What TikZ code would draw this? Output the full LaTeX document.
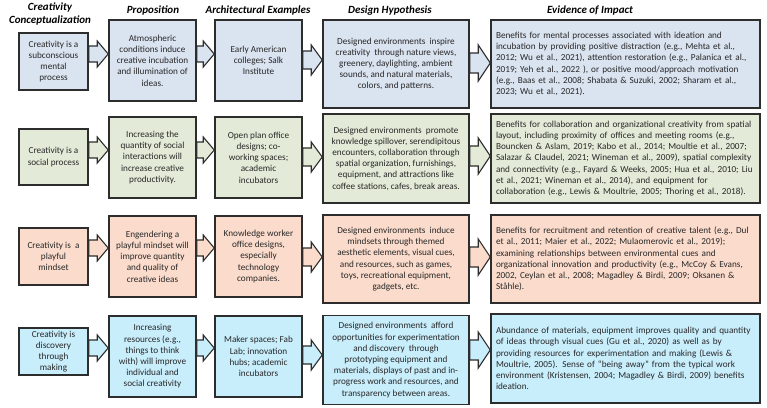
\documentclass[tikz,border=0pt]{standalone}
\usepackage{fontspec}
\setmainfont{Carlito}
\usetikzlibrary{calc}
\definecolor{cA}{RGB}{218,227,240}
\definecolor{cB}{RGB}{227,235,216}
\definecolor{cC}{RGB}{251,220,204}
\definecolor{cD}{RGB}{200,237,251}
\definecolor{bordc}{RGB}{45,45,45}
\definecolor{txtc}{RGB}{40,40,40}
\tikzset{
  box/.style={draw=bordc, line width=1.5pt, rectangle, inner sep=2pt, align=center,
    font=\fontsize{9.2}{11.2}\selectfont, text=txtc},
  ev/.style={box, align=left, text width=259pt, inner xsep=5pt},
  cbox/.style={box, minimum width=69pt},
  pbox/.style={box, minimum width=87pt, minimum height=81pt},
  dbox/.style={box, minimum width=146pt},
  hdr/.style={font=\fontsize{11}{13}\selectfont\bfseries\itshape, align=center, text=black},
  arr/.style={draw=bordc, line width=1.1pt, line join=miter},
}
% src, tgt, y, shaft half, head half, head length, colour
\newcommand{\blockarr}[7]{%
  \path[arr, fill=#7] let \p1=(#1.east), \p2=(#2.west),
    \n1={\x1}, \n2={\x2}, \n3={\x2-#6} in
    (\n1,{#3-#4}) -- (\n3,{#3-#4}) -- (\n3,{#3-#5}) -- (\n2,#3)
    -- (\n3,{#3+#5}) -- (\n3,{#3+#4}) -- (\n1,{#3+#4}) -- cycle;}
\begin{document}
\begin{tikzpicture}[x=1pt,y=-1pt]
\useasboundingbox (0,0) rectangle (767,407);
% headers
\node[hdr] (h1) at (50,14) {Creativity\\Conceptualization};
\node[hdr] (h2) at (153,11) {Proposition};
\node[hdr] (h3) at (258,11) {Architectural Examples};
\node[hdr] (h4) at (390,11) {Design Hypothesis};
\node[hdr] (h5) at (590,11) {Evidence of Impact};
% row 1
\node[cbox, fill=cA, minimum height=57pt] (c1) at (53.5,61.5) {Creativity is a\\subconscious\\mental\\process};
\node[pbox, fill=cA] (p1) at (152.5,60.5) {Atmospheric\\conditions induce\\creative incubation\\and illumination of\\ideas.};
\node[pbox, fill=cA] (a1) at (258.5,60.5) {Early American\\colleges; Salk\\Institute};
\node[dbox, fill=cA, minimum height=88pt] (d1) at (396,64) {Designed environments~ inspire\\creativity~ through nature views,\\greenery, daylighting, ambient\\sounds, and natural materials,\\colors, and patterns.};
\node[ev, fill=cA, minimum height=88pt] (e1) at (625.5,64) {Benefits for mental processes associated with ideation and\\incubation by providing positive distraction (e.g., Mehta et al.,\\2012; Wu et al., 2021), attention restoration (e.g., Palanica et al.,\\2019; Yeh et al., 2022 ), or positive mood/approach motivation\\(e.g., Baas et al., 2008; Shabata \& Suzuki, 2002; Sharam et al.,\\2023; Wu et al., 2021).};
% row 2
\node[cbox, fill=cB, minimum height=56pt] (c2) at (53.5,157) {Creativity is a\\social process};
\node[pbox, fill=cB] (p2) at (152.5,157.5) {Increasing the\\quantity of social\\interactions will\\increase creative\\productivity.};
\node[pbox, fill=cB] (a2) at (258.5,157.5) {Open plan office\\designs; co-\\working spaces;\\academic\\incubators};
\node[dbox, fill=cB, minimum height=89pt] (d2) at (396,158.5) {Designed environments~ promote\\knowledge spillover, serendipitous\\encounters, collaboration through\\spatial organization, furnishings,\\equipment, and attractions like\\coffee stations, cafes, break areas.};
\node[ev, fill=cB, minimum height=89pt] (e2) at (625.5,158.5) {Benefits for collaboration and organizational creativity from spatial\\layout, including proximity of offices and meeting rooms (e.g.,\\Bouncken \& Aslam, 2019; Kabo et al., 2014; Moultie et al., 2007;\\Salazar \& Claudel, 2021; Wineman et al., 2009), spatial complexity\\and connectivity (e.g., Fayard \& Weeks, 2005; Hua et al., 2010; Liu\\et al., 2021; Wineman et al., 2014), and equipment for\\collaboration (e.g., Lewis \& Moultrie, 2005; Thoring et al., 2018).};
% row 3
\node[cbox, fill=cC, minimum height=57pt] (c3) at (53.5,256.5) {Creativity is~ a\\playful\\mindset};
\node[pbox, fill=cC] (p3) at (152.5,256.5) {Engendering a\\playful mindset will\\improve quantity\\and quality of\\creative ideas};
\node[pbox, fill=cC] (a3) at (258.5,256.5) {Knowledge worker\\office designs,\\especially\\technology\\companies.};
\node[dbox, fill=cC, minimum height=88pt] (d3) at (396,259) {Designed environments~ induce\\mindsets through themed\\aesthetic elements, visual cues,\\and resources, such as games,\\toys, recreational equipment,\\gadgets, etc.};
\node[ev, fill=cC, minimum height=88pt] (e3) at (625.5,259) {Benefits for recruitment and retention of creative talent (e.g., Dul\\et al., 2011; Maier et al., 2022; Mulaomerovic et al., 2019);\\examining relationships between environmental cues and\\organizational innovation and productivity (e.g., McCoy \& Evans,\\2002, Ceylan et al., 2008; Magadley \& Birdi, 2009; Oksanen \&\\Ståhle).};
% row 4
\node[cbox, fill=cD, minimum height=47pt] (c4) at (53.5,351.5) {Creativity is\\discovery\\through\\making};
\node[pbox, fill=cD] (p4) at (152.5,356.5) {Increasing\\resources (e.g.,\\things to think\\with) will improve\\individual and\\social creativity};
\node[pbox, fill=cD] (a4) at (258.5,356.5) {Maker spaces; Fab\\Lab; innovation\\hubs; academic\\incubators};
\node[dbox, fill=cD, minimum height=89pt] (d4) at (396,360) {Designed environments~ afford\\opportunities for experimentation\\and discovery~ through\\prototyping equipment and\\materials, displays of past and in-\\progress work and resources, and\\transparency between areas.};
\node[ev, fill=cD, minimum height=89pt] (e4) at (625.5,358.5) {Abundance of materials, equipment improves quality and quantity\\of ideas through visual cues (Gu et al., 2020) as well as by\\providing resources for experimentation and making (Lewis \&\\Moultrie, 2005). Sense of “being away” from the typical work\\environment (Kristensen, 2004; Magadley \& Birdi, 2009) benefits\\ideation.};
% arrows
\blockarr{c1}{p1}{54}{8}{13}{11}{cA}
\blockarr{p1}{a1}{54}{8}{13}{11}{cA}
\blockarr{a1}{d1}{60}{9}{15}{11}{cA}
\blockarr{d1}{e1}{63}{10}{18}{12}{cA}
\blockarr{c2}{p2}{150}{8}{13}{11}{cB}
\blockarr{p2}{a2}{150}{8}{13}{11}{cB}
\blockarr{a2}{d2}{157}{9}{15}{11}{cB}
\blockarr{d2}{e2}{156}{10}{18}{12}{cB}
\blockarr{c3}{p3}{248}{8}{13}{11}{cC}
\blockarr{p3}{a3}{248}{8}{13}{11}{cC}
\blockarr{a3}{d3}{257}{9}{15}{11}{cC}
\blockarr{d3}{e3}{257}{10}{18}{12}{cC}
\blockarr{c4}{p4}{348}{8}{13}{11}{cD}
\blockarr{p4}{a4}{348}{8}{13}{11}{cD}
\blockarr{a4}{d4}{355}{9}{15}{11}{cD}
\blockarr{d4}{e4}{350}{10}{18}{12}{cD}
\end{tikzpicture}
\end{document}
